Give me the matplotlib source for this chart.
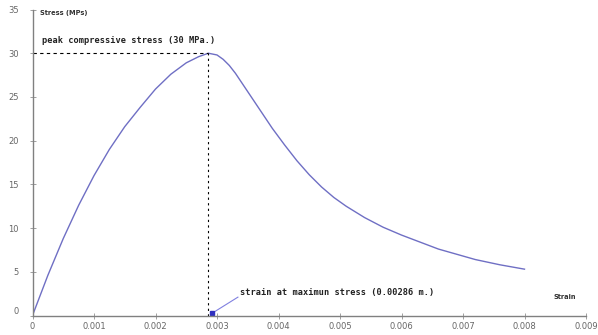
import matplotlib.pyplot as plt
import numpy as np

# values
strain = [0, 0.00025, 0.0005, 0.00075, 0.001, 0.00125, 0.0015, 0.00175,
          0.002, 0.00225, 0.0025, 0.0027, 0.00286, 0.003, 0.0031, 0.0032,
          0.0033, 0.0035, 0.0037, 0.0039, 0.0041, 0.0043, 0.0045, 0.0047,
          0.0049, 0.0051, 0.0054, 0.0057, 0.006, 0.0063, 0.0066, 0.0069,
          0.0072, 0.0076, 0.008]
stress = [0, 4.6, 8.8, 12.6, 16.0, 19.0, 21.6, 23.8,
          25.9, 27.6, 28.9, 29.6, 30, 29.8, 29.3, 28.6,
          27.7, 25.6, 23.5, 21.4, 19.5, 17.7, 16.1, 14.7,
          13.5, 12.5, 11.2, 10.1, 9.2, 8.4, 7.6, 7.0,
          6.4, 5.8, 5.3]
peak_strain = 0.00286
peak_stress = 30
xticks = [0, 0.001, 0.002, 0.003, 0.004, 0.005, 0.006, 0.007, 0.008, 0.009]
xticklabels = ['0', '0.001', '0.002', '0.003', '0.004', '0.005', '0.006', '0.007', '0.008', '0.009']
yticks = [0, 5, 10, 15, 20, 25, 30, 35]

fig = plt.figure(figsize=(5.98, 3.35), dpi=100)
ax = fig.add_axes([32.5 / 598, 19.5 / 335, 553.5 / 598, 306 / 335])

ax.plot(strain, stress, color='#6f6fc4', lw=1.0)
ax.plot([0, peak_strain], [peak_stress, peak_stress], color='black', lw=0.8, ls=(0, (3, 3)))
ax.plot([peak_strain, peak_strain], [0, peak_stress], color='black', lw=0.8, ls=(0, (2, 3)))

ax.set_xlim(0, 0.009)
ax.set_ylim(0, 35)
ax.set_xticks(xticks)
ax.set_xticklabels(xticklabels)
ax.set_yticks(yticks)

for s in ['top', 'right']:
    ax.spines[s].set_visible(False)
for s in ['left', 'bottom']:
    ax.spines[s].set_color('#808080')
    ax.spines[s].set_linewidth(1.0)
ax.tick_params(direction='inout', length=4, width=0.6, color='#909090',
               labelsize=6, labelcolor='#666666', pad=3)
ax.tick_params(axis='y', pad=8)
ax.get_yticklabels()[0].set_va('bottom')

mono = dict(family='DejaVu Sans Mono', weight='bold', fontsize=6.2, color='#222222')
ax.text(0.00012, 34.6, 'Stress (MPs)', fontsize=4.8, weight='bold', color='#333333',
        va='center', ha='left')
ax.text(0.00866, 2.1, 'Strain', fontsize=4.8, weight='bold', color='#333333',
        va='center', ha='center')
ax.text(0.00015, 31.5, 'peak compressive stress (30 MPa.)', va='center', ha='left', **mono)
ax.text(0.00337, 2.6, 'strain at maximun stress (0.00286 m.)', va='center', ha='left', **mono)
ax.plot([0.00334, 0.00293], [2.1, 0.3], color='#8080e0', lw=0.8)
ax.plot([0.00292], [0.3], marker='s', ms=2.5, color='#3030c0', clip_on=False)

fig.savefig('out.png', dpi=100)
